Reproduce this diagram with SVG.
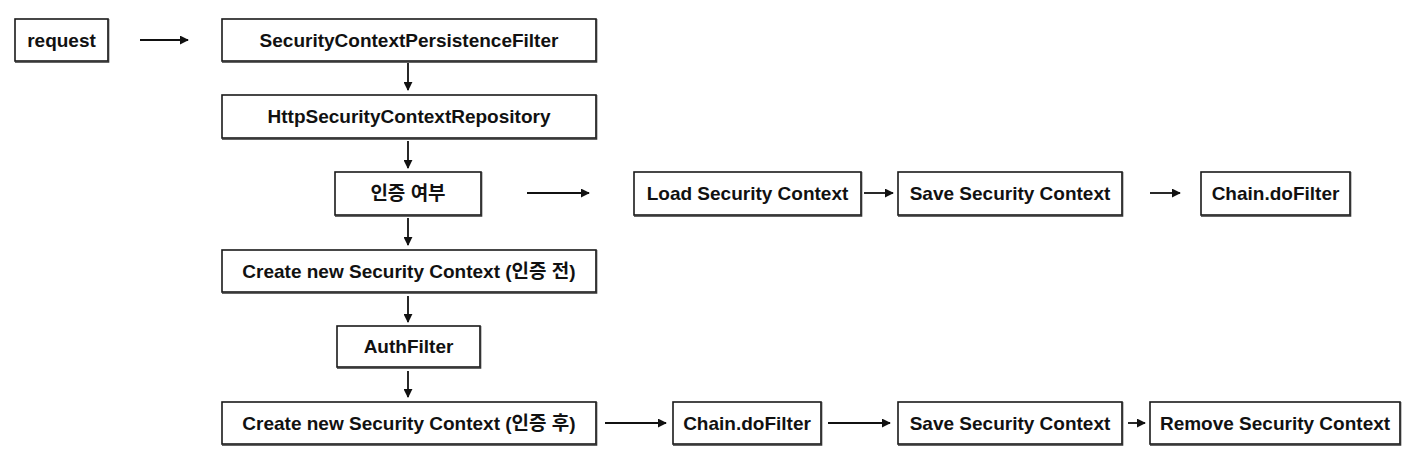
<svg xmlns="http://www.w3.org/2000/svg" width="1420" height="469" viewBox="0 0 1420 469">
<style>
.box{fill:#fff;stroke:#1a1a1a;stroke-width:1.6}
.sh{fill:none;stroke:#333;stroke-width:1.6}
.t{font-family:"Liberation Sans","Noto Sans CJK KR",Arial,sans-serif;font-weight:bold;font-size:19px;fill:#111;text-anchor:middle;dominant-baseline:central}
.c{stroke:#111;stroke-width:1.8;fill:none;marker-end:url(#ah)}
</style>
<defs>
<marker id="ah" viewBox="0 0 10 10" refX="9" refY="5" markerWidth="5" markerHeight="5" orient="auto" markerUnits="strokeWidth">
<path d="M0,0 L10,5 L0,10 z" fill="#111"/>
</marker>
</defs>
<rect width="1420" height="469" fill="#fff"/>
<g id="connectors">
<line class="c" x1="140" y1="40" x2="188" y2="40"/>
<line class="c" x1="408" y1="63" x2="408" y2="90"/>
<line class="c" x1="408" y1="141" x2="408" y2="168"/>
<line class="c" x1="408" y1="218" x2="408" y2="245"/>
<line class="c" x1="408" y1="296" x2="408" y2="322"/>
<line class="c" x1="408" y1="371" x2="408" y2="397"/>
<line class="c" x1="527" y1="193" x2="589" y2="193"/>
<line class="c" x1="864" y1="193" x2="893" y2="193"/>
<line class="c" x1="1150" y1="193" x2="1180" y2="193"/>
<line class="c" x1="605" y1="423" x2="666" y2="423"/>
<line class="c" x1="828" y1="423" x2="890" y2="423"/>
<line class="c" x1="1128" y1="423" x2="1145" y2="423"/>
</g>
<g id="request">
<rect class="box" x="15" y="19" width="93" height="42"/>
<path class="sh" d="M108.5,19 V62 H15"/>
<text class="t" x="61.5" y="40">request</text>
</g>
<g id="scpf">
<rect class="box" x="222" y="19" width="374" height="42"/>
<path class="sh" d="M596.5,19 V62 H222"/>
<text class="t" x="409" y="40">SecurityContextPersistenceFilter</text>
</g>
<g id="hscr">
<rect class="box" x="222" y="95" width="374" height="43"/>
<path class="sh" d="M596.5,95 V139 H222"/>
<text class="t" x="409" y="116.5">HttpSecurityContextRepository</text>
</g>
<g id="auth-check">
<rect class="box" x="335" y="172" width="146" height="43"/>
<path class="sh" d="M481.5,172 V216 H335"/>
<text class="t" x="408" y="193.5">인증 여부</text>
</g>
<g id="load">
<rect class="box" x="634" y="172" width="227" height="43"/>
<path class="sh" d="M861.5,172 V216 H634"/>
<text class="t" x="747.5" y="193.5">Load Security Context</text>
</g>
<g id="save1">
<rect class="box" x="898" y="172" width="224" height="43"/>
<path class="sh" d="M1122.5,172 V216 H898"/>
<text class="t" x="1010" y="193.5">Save Security Context</text>
</g>
<g id="chain1">
<rect class="box" x="1201" y="172" width="149" height="43"/>
<path class="sh" d="M1350.5,172 V216 H1201"/>
<text class="t" x="1275.5" y="193.5">Chain.doFilter</text>
</g>
<g id="create-before">
<rect class="box" x="222" y="250" width="374" height="42"/>
<path class="sh" d="M596.5,250 V293 H222"/>
<text class="t" x="409" y="271">Create new Security Context (인증 전)</text>
</g>
<g id="authfilter">
<rect class="box" x="337" y="326" width="143" height="41"/>
<path class="sh" d="M480.5,326 V368 H337"/>
<text class="t" x="408.5" y="346.5">AuthFilter</text>
</g>
<g id="create-after">
<rect class="box" x="222" y="402" width="374" height="42"/>
<path class="sh" d="M596.5,402 V445 H222"/>
<text class="t" x="409" y="423">Create new Security Context (인증 후)</text>
</g>
<g id="chain2">
<rect class="box" x="673" y="402" width="148" height="42"/>
<path class="sh" d="M821.5,402 V445 H673"/>
<text class="t" x="747" y="423">Chain.doFilter</text>
</g>
<g id="save2">
<rect class="box" x="898" y="402" width="224" height="42"/>
<path class="sh" d="M1122.5,402 V445 H898"/>
<text class="t" x="1010" y="423">Save Security Context</text>
</g>
<g id="remove">
<rect class="box" x="1150" y="402" width="250" height="42"/>
<path class="sh" d="M1400.5,402 V445 H1150"/>
<text class="t" x="1275" y="423">Remove Security Context</text>
</g>
</svg>
